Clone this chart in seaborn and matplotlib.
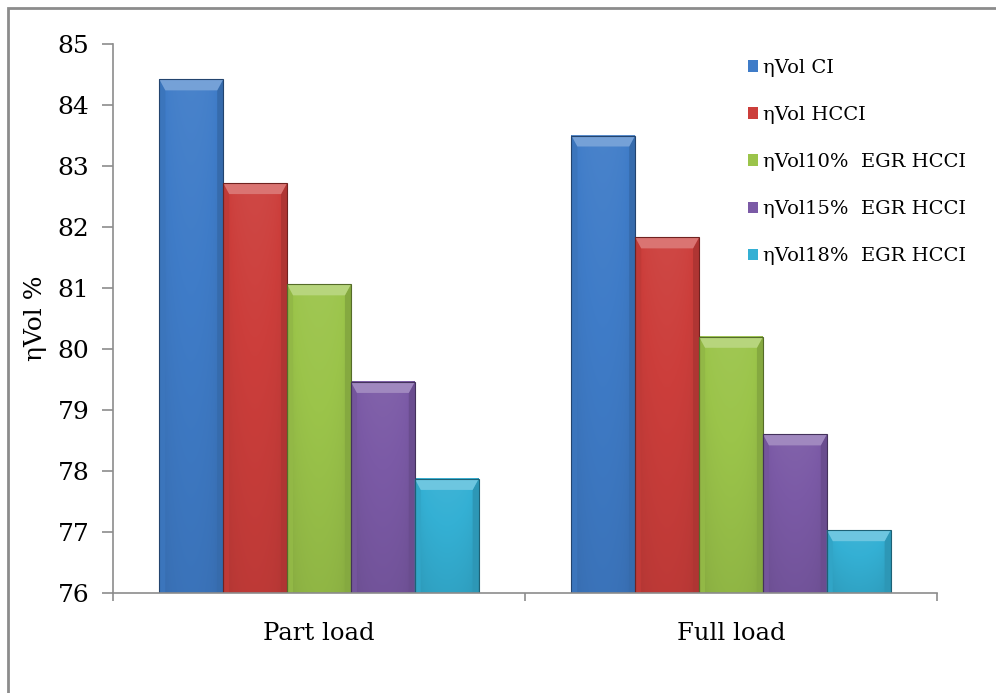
import numpy as np
import pandas as pd
import matplotlib
matplotlib.use("Agg")
import matplotlib.pyplot as plt
from matplotlib.colors import to_rgb
from matplotlib.patches import Polygon, Rectangle
import seaborn as sns

# Volumetric efficiency data
loads = ["Part load", "Full load"]
series = ["ηVol CI", "ηVol HCCI", "ηVol10%  EGR HCCI",
          "ηVol15%  EGR HCCI", "ηVol18%  EGR HCCI"]
part_load = [84.42, 82.72, 81.06, 79.46, 77.87]
full_load = [83.50, 81.83, 80.20, 78.60, 77.03]
y_ticks = [76, 77, 78, 79, 80, 81, 82, 83, 84, 85]
colors = ["#3F7CC8", "#CC3E3B", "#9BC44A", "#7B5AA6", "#34B0D4"]

df = pd.DataFrame({
    "load": [l for l in loads for _ in series],
    "series": series * 2,
    "value": part_load + full_load,
})

sns.set_theme(style="white")
plt.rcParams["font.family"] = ["DejaVu Serif"]
plt.rcParams["text.color"] = "black"
plt.rcParams["axes.labelcolor"] = "black"
plt.rcParams["xtick.labelcolor"] = "black"
plt.rcParams["ytick.labelcolor"] = "black"

fig = plt.figure(figsize=(9.96, 6.93), dpi=100)
ax = fig.add_axes([113 / 996, 1 - 593 / 693, (937 - 113) / 996, (593 - 44) / 693])

sns.barplot(data=df, x="load", y="value", hue="series", order=loads,
            hue_order=series, palette=colors, width=0.775, saturation=1,
            linewidth=0, errorbar=None, ax=ax)
ymin, ymax = 76, 85
ax.set_ylim(ymin, ymax)
ax.set_yticks(y_ticks)


def shade(c, f):
    r = np.array(to_rgb(c))
    if f >= 0:
        return tuple(r + (1 - r) * f)
    return tuple(r * (1 + f))


# Bevelled, gently shaded bars
fig.canvas.draw()
inv = ax.transData.inverted()
px_w = inv.transform((1, 0))[0] - inv.transform((0, 0))[0]
px_h = inv.transform((0, 1))[1] - inv.transform((0, 0))[1]
bars = [p for p in ax.patches if isinstance(p, Rectangle) and p.get_height() > 0]
for p in bars:
    c = p.get_facecolor()
    x0 = p.get_x()
    w = p.get_width()
    x1 = x0 + w
    y1 = p.get_y() + p.get_height()
    y0 = max(p.get_y(), ymin)
    z = p.get_zorder()
    nx, ny = 60, 60
    xs = np.linspace(-1, 1, nx)[None, :]
    ys = np.linspace(0, 1, ny)[:, None]
    lum = 0.05 * (1 - xs ** 2) - 0.10 * (xs ** 10) - 0.12 * (1 - ys)
    base = np.array(to_rgb(c))
    img = np.clip(base[None, None, :] * (1 + np.minimum(lum, 0))[..., None]
                  + (1 - base[None, None, :]) * np.maximum(lum, 0)[..., None], 0, 1)
    ax.imshow(img, extent=(x0, x1, y0, y1), origin="lower",
              aspect="auto", zorder=z + 0.1, interpolation="bilinear")
    dx, dy = 6 * px_w, 11 * px_h
    ax.add_patch(Polygon([(x0, y1), (x1, y1), (x1 - dx, y1 - dy), (x0 + dx, y1 - dy)],
                         closed=True, facecolor=shade(c, 0.28), edgecolor="none",
                         zorder=z + 0.2))
    ax.add_patch(Polygon([(x0, y1), (x0 + dx, y1 - dy), (x0 + dx, y0), (x0, y0)],
                         closed=True, facecolor=shade(c, -0.06), edgecolor="none",
                         zorder=z + 0.15))
    ax.add_patch(Polygon([(x1, y1), (x1 - dx, y1 - dy), (x1 - dx, y0), (x1, y0)],
                         closed=True, facecolor=shade(c, -0.14), edgecolor="none",
                         zorder=z + 0.15))
    ax.add_patch(Rectangle((x0, y0), w, y1 - y0, facecolor="none",
                           edgecolor=shade(c, -0.45), linewidth=0.8,
                           zorder=z + 0.3))

ax.set_xlim(-0.5, 1.5)
ax.set_xticks([-0.5, 0.5, 1.5])
ax.set_xticklabels([])
ax.set_xticks([0, 1], minor=True)
ax.set_xticklabels(loads, minor=True, fontsize=17.5)
ax.tick_params(axis="x", which="minor", length=0, pad=21)
ax.tick_params(axis="x", which="major", length=6, width=1.2, color="#8C8C8C",
               direction="out", bottom=True)
ax.tick_params(axis="y", length=8, width=1.2, color="#8C8C8C", direction="out",
               left=True, labelsize=18, pad=9)

for s in ["top", "right"]:
    ax.spines[s].set_visible(False)
for s in ["left", "bottom"]:
    ax.spines[s].set_color("#8C8C8C")
    ax.spines[s].set_linewidth(1.2)
    ax.spines[s].set_zorder(5)

ax.set_xlabel("")
ax.set_ylabel("ηVol %", fontsize=18, labelpad=8)

handles, labels = ax.get_legend_handles_labels()
ax.legend(handles, labels, loc="upper left",
          bbox_to_anchor=(740 / 996, 1 - 51 / 693),
          bbox_transform=fig.transFigure, frameon=False, fontsize=14,
          handlelength=0.55, handleheight=0.55, handletextpad=0.25,
          labelspacing=1.5, borderaxespad=0)

# chart-area frame
fig.add_artist(Rectangle((8 / 996, -0.05), 1.2, 1 - 8 / 693 + 0.05,
                         transform=fig.transFigure, facecolor="none",
                         edgecolor="#8C8C8C", linewidth=2))

fig.savefig("out.png", dpi=100)
